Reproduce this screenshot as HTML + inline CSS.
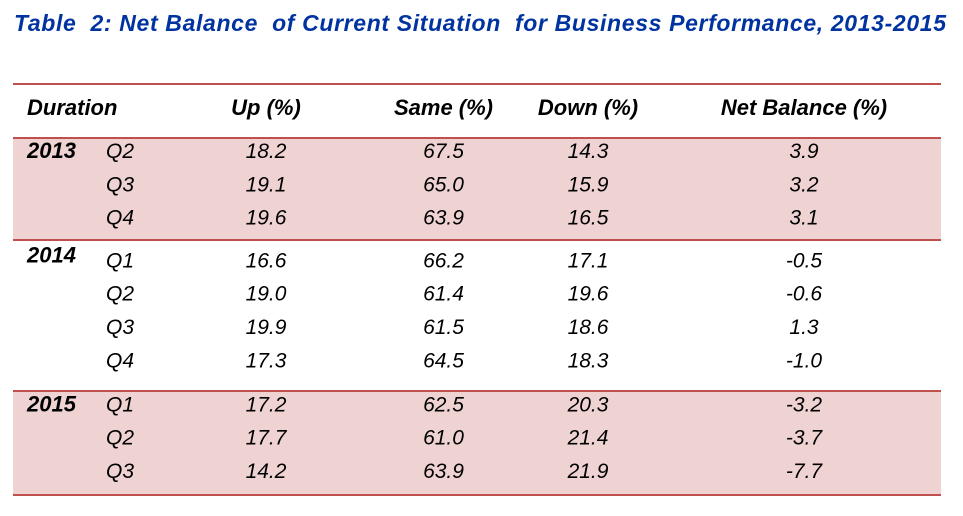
<!DOCTYPE html>
<html>
<head>
<meta charset="utf-8">
<style>
html,body{margin:0;padding:0;background:#fff;}
svg{display:block;}
text{font-family:"Liberation Sans",Arial,sans-serif;font-style:italic;}
.h{font-weight:bold;font-size:22px;fill:#000;}
.y{font-weight:bold;font-size:22px;fill:#000;}
.d{font-size:21px;fill:#000;}
</style>
</head>
<body>
<svg width="963" height="516" viewBox="0 0 963 516" xmlns="http://www.w3.org/2000/svg">
  <rect x="0" y="0" width="963" height="516" fill="#fff"/>
  <!-- Title -->
  <text x="14" y="31" style="font-weight:bold;font-size:23px;fill:#0033a0;white-space:pre;" textLength="932" lengthAdjust="spacing" xml:space="preserve">Table  2: Net Balance  of Current Situation  for Business Performance, 2013-2015</text>

  <!-- pink bands -->
  <rect x="13" y="139" width="928" height="101" fill="#efd3d3"/>
  <rect x="13" y="392" width="928" height="102" fill="#efd3d3"/>

  <!-- lines -->
  <rect x="13" y="83" width="928" height="2" fill="#c0504d"/>
  <rect x="13" y="137" width="928" height="2" fill="#c0504d"/>
  <rect x="13" y="239" width="928" height="2" fill="#c0504d"/>
  <rect x="13" y="390" width="928" height="2" fill="#c0504d"/>
  <rect x="13" y="494" width="928" height="2" fill="#c0504d"/>

  <!-- headers -->
  <text class="h" x="27" y="115">Duration</text>
  <text class="h" x="266" y="115" text-anchor="middle">Up (%)</text>
  <text class="h" x="443.5" y="115" text-anchor="middle">Same (%)</text>
  <text class="h" x="588" y="115" text-anchor="middle">Down (%)</text>
  <text class="h" x="804" y="115" text-anchor="middle">Net Balance (%)</text>

  <!-- years -->
  <text class="y" x="27" y="158">2013</text>
  <text class="y" x="27" y="262.5">2014</text>
  <text class="y" x="27" y="411.5">2015</text>

  <g>
    <text class="d" x="106" y="158">Q2</text>
    <text class="d" x="266" y="158" text-anchor="middle">18.2</text>
    <text class="d" x="443.5" y="158" text-anchor="middle">67.5</text>
    <text class="d" x="588" y="158" text-anchor="middle">14.3</text>
    <text class="d" x="804" y="158" text-anchor="middle">3.9</text>

    <text class="d" x="106" y="191.5">Q3</text>
    <text class="d" x="266" y="191.5" text-anchor="middle">19.1</text>
    <text class="d" x="443.5" y="191.5" text-anchor="middle">65.0</text>
    <text class="d" x="588" y="191.5" text-anchor="middle">15.9</text>
    <text class="d" x="804" y="191.5" text-anchor="middle">3.2</text>

    <text class="d" x="106" y="224.5">Q4</text>
    <text class="d" x="266" y="224.5" text-anchor="middle">19.6</text>
    <text class="d" x="443.5" y="224.5" text-anchor="middle">63.9</text>
    <text class="d" x="588" y="224.5" text-anchor="middle">16.5</text>
    <text class="d" x="804" y="224.5" text-anchor="middle">3.1</text>

    <text class="d" x="106" y="267.5">Q1</text>
    <text class="d" x="266" y="267.5" text-anchor="middle">16.6</text>
    <text class="d" x="443.5" y="267.5" text-anchor="middle">66.2</text>
    <text class="d" x="588" y="267.5" text-anchor="middle">17.1</text>
    <text class="d" x="804" y="267.5" text-anchor="middle">-0.5</text>

    <text class="d" x="106" y="300.5">Q2</text>
    <text class="d" x="266" y="300.5" text-anchor="middle">19.0</text>
    <text class="d" x="443.5" y="300.5" text-anchor="middle">61.4</text>
    <text class="d" x="588" y="300.5" text-anchor="middle">19.6</text>
    <text class="d" x="804" y="300.5" text-anchor="middle">-0.6</text>

    <text class="d" x="106" y="334">Q3</text>
    <text class="d" x="266" y="334" text-anchor="middle">19.9</text>
    <text class="d" x="443.5" y="334" text-anchor="middle">61.5</text>
    <text class="d" x="588" y="334" text-anchor="middle">18.6</text>
    <text class="d" x="804" y="334" text-anchor="middle">1.3</text>

    <text class="d" x="106" y="367.5">Q4</text>
    <text class="d" x="266" y="367.5" text-anchor="middle">17.3</text>
    <text class="d" x="443.5" y="367.5" text-anchor="middle">64.5</text>
    <text class="d" x="588" y="367.5" text-anchor="middle">18.3</text>
    <text class="d" x="804" y="367.5" text-anchor="middle">-1.0</text>

    <text class="d" x="106" y="411.5">Q1</text>
    <text class="d" x="266" y="411.5" text-anchor="middle">17.2</text>
    <text class="d" x="443.5" y="411.5" text-anchor="middle">62.5</text>
    <text class="d" x="588" y="411.5" text-anchor="middle">20.3</text>
    <text class="d" x="804" y="411.5" text-anchor="middle">-3.2</text>

    <text class="d" x="106" y="444.5">Q2</text>
    <text class="d" x="266" y="444.5" text-anchor="middle">17.7</text>
    <text class="d" x="443.5" y="444.5" text-anchor="middle">61.0</text>
    <text class="d" x="588" y="444.5" text-anchor="middle">21.4</text>
    <text class="d" x="804" y="444.5" text-anchor="middle">-3.7</text>

    <text class="d" x="106" y="478">Q3</text>
    <text class="d" x="266" y="478" text-anchor="middle">14.2</text>
    <text class="d" x="443.5" y="478" text-anchor="middle">63.9</text>
    <text class="d" x="588" y="478" text-anchor="middle">21.9</text>
    <text class="d" x="804" y="478" text-anchor="middle">-7.7</text>
  </g>
</svg>
</body>
</html>
